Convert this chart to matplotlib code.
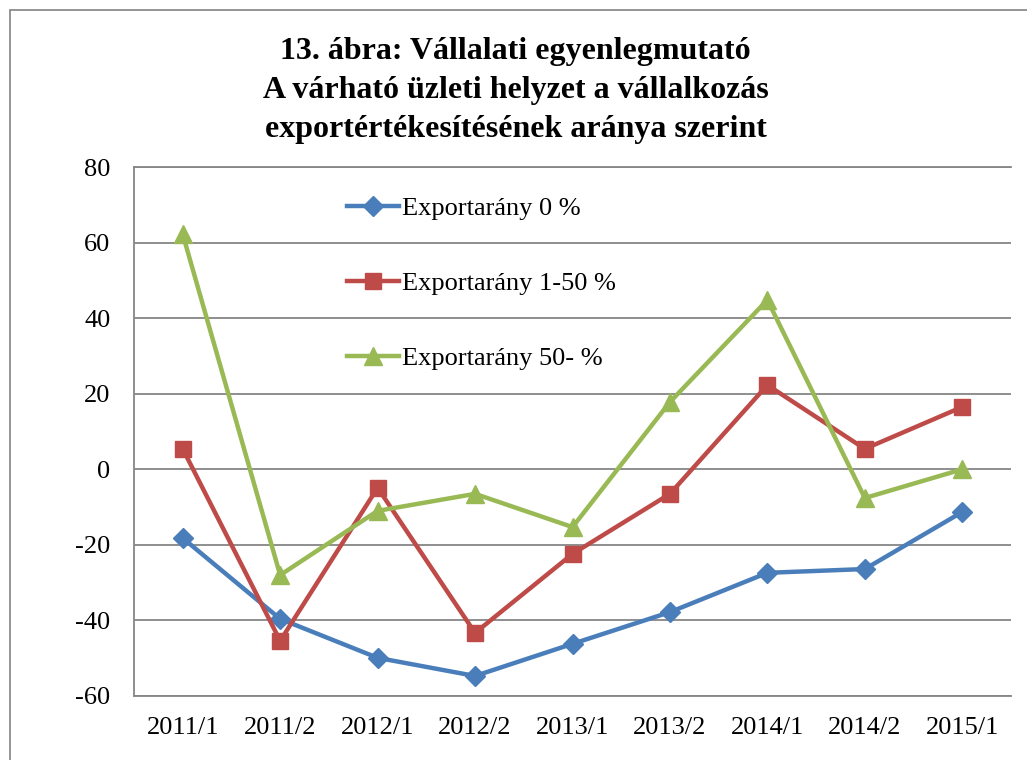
import matplotlib
matplotlib.use("Agg")
import matplotlib.pyplot as plt
from matplotlib.patches import Rectangle

categories = ["2011/1", "2011/2", "2012/1", "2012/2", "2013/1", "2013/2", "2014/1", "2014/2", "2015/1"]
export_0 = [-18.2, -39.6, -49.9, -54.7, -46.2, -37.8, -27.4, -26.4, -11.3]
export_1_50 = [5.4, -45.4, -4.9, -43.3, -22.4, -6.5, 22.3, 5.4, 16.5]
export_50 = [62.2, -28.0, -11.0, -6.5, -15.3, 17.8, 44.8, -7.6, 0.0]
series_labels = ["Exportarány 0 %", "Exportarány 1-50 %", "Exportarány 50- %"]
y_ticks = [-60, -40, -20, 0, 20, 40, 60, 80]
title = "13. ábra: Vállalati egyenlegmutató\nA várható üzleti helyzet a vállalkozás\nexportértékesítésének aránya szerint"

plt.rcParams['font.family'] = ['Liberation Serif', 'DejaVu Serif']
plt.rcParams['axes.unicode_minus'] = False

W, H = 1027, 760
fig = plt.figure(figsize=(W / 100, H / 100), dpi=100)
fig.patch.set_facecolor("white")

# outer chart frame (extends beyond right and bottom edges)
fig.add_artist(Rectangle((10 / W, -0.05), 1.1, 1 - 10 / H + 0.05, transform=fig.transFigure,
                         fill=False, edgecolor="#8c8c8c", linewidth=1.3))

ax = fig.add_axes([134 / W, 1 - 696 / H, (1011 - 134) / W, (696 - 167) / H])
x = list(range(len(categories)))

colors = ["#4A7EBB", "#BE4B48", "#98B954"]
ax.plot(x, export_0, color=colors[0], lw=3.2, marker="D", ms=10, label=series_labels[0], zorder=3, clip_on=False)
ax.plot(x, export_1_50, color=colors[1], lw=3.2, marker="s", ms=12, label=series_labels[1], zorder=3, clip_on=False)
ax.plot(x, export_50, color=colors[2], lw=3.2, marker="^", ms=13, label=series_labels[2], zorder=3, clip_on=False)

ax.set_xlim(-0.5, len(categories) - 0.5)
ax.set_ylim(-60, 80)
ax.set_yticks(y_ticks)
ax.set_xticks(x)
ax.set_xticklabels(categories)
ax.grid(axis="y", color="#868686", lw=1.3, zorder=0)
ax.set_axisbelow(True)
ax.spines["right"].set_visible(False)
for s in ["left", "bottom", "top"]:
    ax.spines[s].set_color("#868686")
    ax.spines[s].set_linewidth(1.3)
ax.tick_params(axis="both", length=0, labelsize=19, colors="black")
ax.tick_params(axis="y", pad=17)
ax.tick_params(axis="x", pad=15)

leg = ax.legend(loc="upper left", bbox_to_anchor=((336 - 134) / (1011 - 134), 1 - (186 - 167) / (696 - 167)),
                frameon=False, fontsize=19, labelspacing=1.95, handlelength=2.0, handletextpad=0.12,
                borderaxespad=0)

fig.text(0.5 + 2 / W, 1 - 37 / H, title, ha="center", va="top", fontsize=23,
         fontweight="bold", linespacing=1.45)

fig.savefig("out.png", dpi=100, facecolor="white")
